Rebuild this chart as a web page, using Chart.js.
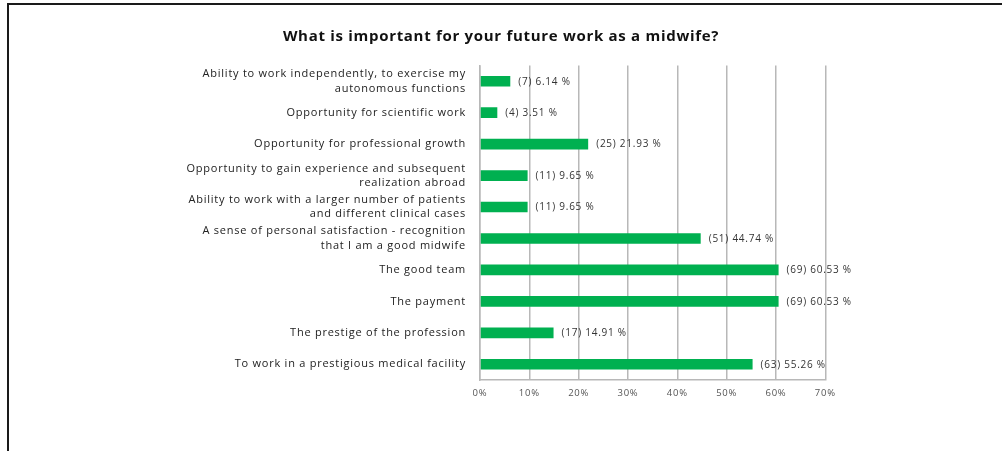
<!DOCTYPE html>
<html>
<head>
<meta charset="utf-8">
<script src="https://cdn.jsdelivr.net/npm/chart.js@4.4.1/dist/chart.umd.min.js"></script>
<style>
  html, body { margin: 0; padding: 0; background: #ffffff; }
  #wrap { position: relative; width: 1002px; height: 451px; overflow: hidden; }
  #frame { position: absolute; left: 7px; top: 3px; right: -10px; bottom: -10px;
           border-top: 2px solid #1a1a1a; border-left: 2px solid #1a1a1a; pointer-events: none; }
  canvas { position: absolute; left: 0; top: 0; }
</style>
</head>
<body>
<div id="wrap">
  <canvas id="c" width="1002" height="451"></canvas>
  <div id="frame"></div>
</div>
<script>
// Survey answers, top to bottom
const categories = [
  ["Ability to work independently, to exercise my", "autonomous functions"],
  "Opportunity for scientific work",
  "Opportunity for professional growth",
  ["Opportunity to gain experience and subsequent", "realization abroad"],
  ["Ability to work with a larger number of patients", "and different clinical cases"],
  ["A sense of personal satisfaction - recognition", "that I am a good midwife"],
  "The good team",
  "The payment",
  "The prestige of the profession",
  "To work in a prestigious medical facility"
];
const respondents = [7, 4, 25, 11, 11, 51, 69, 69, 17, 63];
const percentages = [6.14, 3.51, 21.93, 9.65, 9.65, 44.74, 60.53, 60.53, 14.91, 55.26];
const xTicks = [0, 10, 20, 30, 40, 50, 60, 70];
const titleText = 'What is important for your future work as a midwife?';

const GRID = '#b8b8b8';
const SPACING = '0.75px';

// Slightly wide lettering for all canvas text
const spacing = {
  id: 'spacing',
  beforeDraw(chart) { chart.ctx.letterSpacing = SPACING; }
};

// Title centred over the whole page
const pageTitle = {
  id: 'pageTitle',
  afterDraw(chart) {
    const ctx = chart.ctx;
    ctx.save();
    ctx.letterSpacing = '0.7px';
    ctx.font = 'bold 15px "Open Sans"';
    ctx.fillStyle = '#111111';
    ctx.textAlign = 'center';
    ctx.textBaseline = 'middle';
    ctx.fillText(titleText, 501, 37);
    ctx.restore();
  }
};

// Writes "(n) p %" just past the end of each bar
const valueLabels = {
  id: 'valueLabels',
  afterDatasetsDraw(chart) {
    const ctx = chart.ctx;
    const meta = chart.getDatasetMeta(0);
    ctx.save();
    ctx.letterSpacing = SPACING;
    ctx.font = '10px "Open Sans"';
    ctx.fillStyle = '#333333';
    ctx.textAlign = 'left';
    ctx.textBaseline = 'middle';
    meta.data.forEach((bar, i) => {
      ctx.fillText('(' + respondents[i] + ') ' + percentages[i].toFixed(2) + ' %', bar.x + 8, bar.y + 0.5);
    });
    ctx.restore();
  }
};

new Chart(document.getElementById('c'), {
  type: 'bar',
  data: {
    labels: categories,
    datasets: [{
      data: percentages,
      backgroundColor: '#00b050',
      borderWidth: 0,
      categoryPercentage: 1,
      barPercentage: 0.34
    }]
  },
  options: {
    indexAxis: 'y',
    responsive: false,
    animation: false,
    devicePixelRatio: 1,
    layout: { padding: { left: 0, right: 176.7, top: 65.5, bottom: 0 } },
    plugins: {
      legend: { display: false },
      tooltip: { enabled: false },
      title: { display: false }
    },
    scales: {
      x: {
        min: 0,
        max: 70,
        afterBuildTicks(scale) { scale.ticks = xTicks.map(v => ({ value: v })); },
        afterFit(scale) { scale.height = 71; },
        grid: { color: GRID, lineWidth: 1.5, drawTicks: false },
        border: { display: true, color: GRID, width: 1.5 },
        ticks: {
          padding: 8,
          autoSkip: false,
          maxRotation: 0,
          color: '#555555',
          font: { family: '"Open Sans"', size: 9.5 },
          callback: v => v + '%'
        }
      },
      y: {
        afterFit(scale) { scale.width = 480; },
        grid: { display: false, drawTicks: false },
        border: { display: true, color: GRID, width: 1.5 },
        ticks: {
          padding: 14,
          autoSkip: false,
          color: '#222222',
          font: { family: '"Open Sans"', size: 11, lineHeight: 1.3 }
        }
      }
    }
  },
  plugins: [spacing, valueLabels, pageTitle]
});
</script>
</body>
</html>
